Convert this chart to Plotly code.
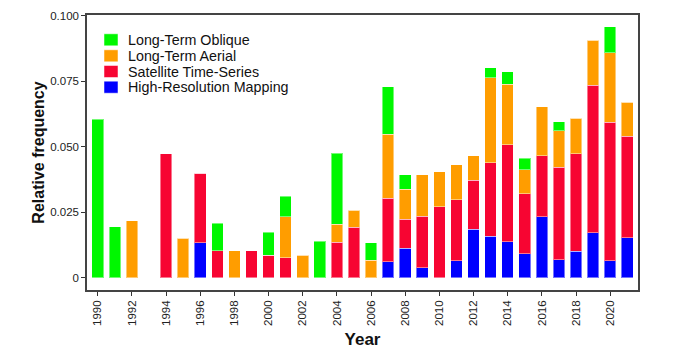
import plotly.graph_objects as go

years = list(range(1990, 2022))

high_res = [0, 0, 0, 0, 0, 0, 0.0133, 0, 0, 0, 0, 0, 0, 0, 0, 0, 0,
            0.0060, 0.0112, 0.0038, 0, 0.0064, 0.0185, 0.0159, 0.0138, 0.0091,
            0.0233, 0.0069, 0.0101, 0.0172, 0.0064, 0.0153]
satellite = [0, 0, 0, 0, 0.0474, 0, 0.0266, 0.0103, 0, 0.0103, 0.0086, 0.0076, 0, 0, 0.0135, 0.0193, 0,
             0.0243, 0.0112, 0.0197, 0.0270, 0.0233, 0.0187, 0.0280, 0.0369, 0.0229,
             0.0233, 0.0353, 0.0372, 0.0563, 0.0530, 0.0387]
aerial = [0, 0, 0.0217, 0, 0, 0.0151, 0, 0, 0.0103, 0, 0, 0.0156, 0.0086, 0, 0.0069, 0.0064, 0.0066,
          0.0245, 0.0114, 0.0159, 0.0134, 0.0134, 0.0093, 0.0324, 0.0232, 0.0092,
          0.0187, 0.0140, 0.0136, 0.0172, 0.0265, 0.0129]
oblique = [0.0605, 0.0195, 0, 0, 0, 0, 0, 0.0105, 0, 0, 0.0088, 0.0079, 0, 0.0139, 0.0272, 0, 0.0067,
           0.0182, 0.0056, 0, 0, 0, 0, 0.0038, 0.0047, 0.0044,
           0, 0.0034, 0, 0, 0.0100, 0]

series_names = ["High-Resolution Mapping", "Satellite Time-Series", "Long-Term Aerial", "Long-Term Oblique"]
series_values = [high_res, satellite, aerial, oblique]
series_colors = ["#0000FF", "#F70532", "#FF9D00", "#00F700"]

x_ticks = list(range(1990, 2021, 2))
y_ticks = [0, 0.025, 0.05, 0.075, 0.1]
y_labels = ["0", "0.025", "0.050", "0.075", "0.100"]

fig = go.Figure()
for name, vals, color in zip(series_names, series_values, series_colors):
    fig.add_trace(go.Bar(
        x=years, y=vals, name=name, showlegend=False,
        marker=dict(color=color, line=dict(color="rgba(255,255,255,0.45)", width=1)),
    ))

font_family = "Liberation Sans, Arial, sans-serif"

# Manual legend (top-left inside plot), entries listed top-to-bottom
# Plot area: 551 px wide, 275 px tall
PW, PH = 551.0, 275.0
sq_x0, sq_x1 = 17 / PW, 31 / PW
txt_x = 39 / PW
row_centers_px = [250.2, 234.2, 218.5, 202.8]  # px above plot bottom
half_h = 6 / PH
legend_order = list(reversed(range(len(series_names))))
for row, idx in enumerate(legend_order):
    yc = row_centers_px[row] / PH
    fig.add_shape(type="rect", xref="paper", yref="paper",
                  x0=sq_x0, x1=sq_x1, y0=yc - half_h, y1=yc + half_h,
                  fillcolor=series_colors[idx], line=dict(color="rgba(255,255,255,0.5)", width=1))
    fig.add_annotation(xref="paper", yref="paper", x=txt_x, y=yc,
                       xanchor="left", yanchor="middle", showarrow=False,
                       text=series_names[idx], font=dict(size=14.3, color="#111", family=font_family))

fig.update_layout(
    width=662, height=341,
    barmode="stack", bargap=0.32,
    plot_bgcolor="white", paper_bgcolor="white",
    margin=dict(l=79, r=32, t=7, b=59, autoexpand=False),
    font=dict(family=font_family, color="#222", size=12),
    showlegend=False,
    xaxis=dict(
        range=[1989.37, 2021.63], tickvals=x_ticks, ticktext=[str(t) for t in x_ticks],
        tickangle=-90, ticks="outside", ticklen=4, tickcolor="#333",
        showline=True, linecolor="#444", linewidth=1.5, mirror=True,
        showgrid=False, zeroline=False,
        tickfont=dict(size=11.5, color="#222"),
        title=dict(text="<b>Year</b>", font=dict(size=17, color="#111"), standoff=9),
    ),
    yaxis=dict(
        range=[-0.0047, 0.1003], tickvals=y_ticks, ticktext=y_labels,
        ticks="outside", ticklen=4, tickcolor="#333",
        showline=True, linecolor="#444", linewidth=1.5, mirror=True,
        showgrid=False, zeroline=False,
        tickfont=dict(size=11.5, color="#222"),
        title=dict(text="<b>Relative frequency</b>", font=dict(size=16, color="#111"), standoff=2),
    ),
)

fig.write_html("out.html")
